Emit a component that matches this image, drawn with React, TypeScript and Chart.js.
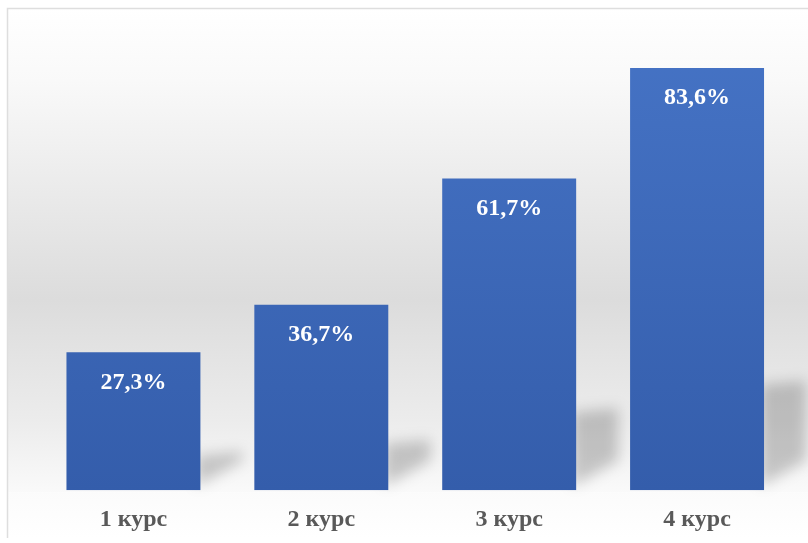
import React, { useEffect, useRef } from "react";
import { Chart, registerables } from "chart.js";

Chart.register(...registerables);

const categories = ["1 курс", "2 курс", "3 курс", "4 курс"];
const values = [27.3, 36.7, 61.7, 83.6];
const valueLabels = ["27,3%", "36,7%", "61,7%", "83,6%"];

const decorPlugin = {
  id: "decor",
  beforeDraw(chart: any) {
    const { ctx, width, height, chartArea } = chart;
    ctx.save();
    ctx.fillStyle = "#ffffff";
    ctx.fillRect(0, 0, width, height);
    const fx = 7, fy = 8, fb = height - 5;
    const g = ctx.createLinearGradient(0, fy, 0, chartArea.bottom + 4);
    g.addColorStop(0, "#ffffff");
    g.addColorStop(0.15, "#f9f9f9");
    g.addColorStop(0.6, "#dcdcdc");
    g.addColorStop(0.85, "#ececec");
    g.addColorStop(1, "#fafafa");
    ctx.fillStyle = g;
    ctx.fillRect(fx, fy, width - fx, chartArea.bottom + 2 - fy);
    const g2 = ctx.createLinearGradient(0, chartArea.bottom, 0, fb);
    g2.addColorStop(0, "#fbfbfb");
    g2.addColorStop(1, "#ffffff");
    ctx.fillStyle = g2;
    ctx.fillRect(fx, chartArea.bottom + 2, width - fx, fb - chartArea.bottom - 2);
    ctx.strokeStyle = "#dedede";
    ctx.lineWidth = 1.5;
    ctx.beginPath();
    ctx.moveTo(fx + 0.5, fb);
    ctx.lineTo(fx + 0.5, fy + 0.5);
    ctx.lineTo(width, fy + 0.5);
    ctx.stroke();
    ctx.restore();
  },
  beforeDatasetsDraw(chart: any) {
    const { ctx } = chart;
    const meta = chart.getDatasetMeta(0);
    ctx.save();
    ctx.filter = "blur(7px)";
    ctx.fillStyle = "rgba(0,0,0,0.2)";
    meta.data.forEach((bar: any) => {
      const R = bar.x + bar.width / 2;
      const B = bar.base;
      const h = B - bar.y;
      ctx.beginPath();
      ctx.moveTo(R - 4, B - 4);
      ctx.lineTo(R - 4, B - 0.25 * h);
      ctx.lineTo(R + 42, B - 0.25 * h - 4);
      ctx.lineTo(R + 42, B - 30);
      ctx.closePath();
      ctx.fill();
    });
    ctx.restore();
  },
  afterDatasetsDraw(chart: any) {
    const { ctx } = chart;
    const meta = chart.getDatasetMeta(0);
    ctx.save();
    ctx.fillStyle = "#ffffff";
    ctx.font = "bold 24px 'Liberation Serif', 'Times New Roman', serif";
    ctx.textAlign = "center";
    ctx.textBaseline = "middle";
    meta.data.forEach((bar: any, i: number) => {
      ctx.fillText(valueLabels[i], bar.x, bar.y + 30);
    });
    ctx.restore();
  },
};

export default function App() {
  const ref = useRef<HTMLCanvasElement>(null);
  useEffect(() => {
    if (!ref.current) return;
    const chart = new Chart(ref.current, {
      type: "bar",
      data: {
        labels: categories,
        datasets: [
          {
            data: values,
            backgroundColor: (c: any) => {
              const area = c.chart.chartArea;
              if (!area) return "#4472C4";
              const g = c.chart.ctx.createLinearGradient(0, area.top, 0, area.bottom);
              g.addColorStop(0, "#4674C6");
              g.addColorStop(1, "#345DAB");
              return g;
            },
            borderWidth: 0,
            barPercentage: 0.713,
            categoryPercentage: 1,
          },
        ],
      },
      options: {
        responsive: false,
        animation: false,
        layout: { padding: { left: 39.5, right: 17, top: 20, bottom: -6 } },
        plugins: { legend: { display: false }, tooltip: { enabled: false } },
        scales: {
          x: {
            grid: { display: false, drawTicks: false },
            border: { display: false },
            ticks: {
              color: "#595959",
              padding: 15,
              font: { family: "'Liberation Serif', 'Times New Roman', serif", size: 24, weight: "bold" },
            },
          },
          y: {
            display: false,
            min: 0,
            max: 93.1,
          },
        },
      },
      plugins: [decorPlugin],
    });
    return () => chart.destroy();
  }, []);
  return (
    <div style={{ position: "fixed", left: 0, top: 0, width: 808, height: 543 }}>
      <canvas ref={ref} width={808} height={543} style={{ display: "block" }} />
    </div>
  );
}
